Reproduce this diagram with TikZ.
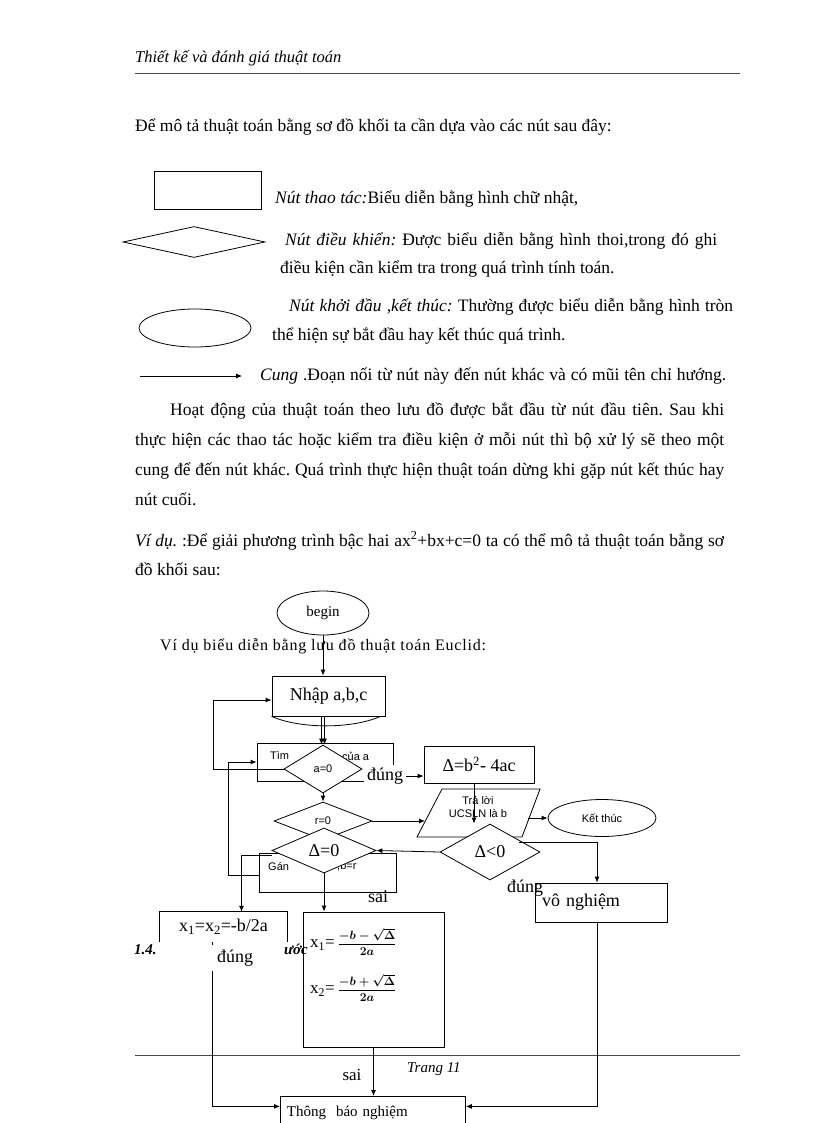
\documentclass[tikz,border=0pt]{standalone}
\usepackage{fontspec}
\setmainfont{Liberation Serif}
\setsansfont{Liberation Sans}
\usepackage{amsmath}
\usetikzlibrary{arrows.meta,shapes.geometric}
\definecolor{rulegray}{HTML}{4A4A4A}
\frenchspacing
\tikzset{
  body/.style={anchor=base west,inner sep=0pt,font=\fontsize{17.5}{20}\selectfont},
  lbl/.style={inner sep=0pt,font=\fontsize{18}{20}\selectfont},
  small/.style={inner sep=0pt,font=\sffamily\fontsize{11}{13}\selectfont},
  box/.style={draw,line width=.8pt,inner sep=0pt},
  dia/.style={diamond,draw,line width=.8pt,inner sep=0pt},
  oval/.style={ellipse,draw,line width=.8pt,inner sep=0pt},
  arr/.style={-{Latex[length=6pt,width=5pt]},line width=.8pt},
  plain/.style={line width=.8pt},
  cover/.style={fill=white,inner sep=3pt}
}
\begin{document}
\begin{tikzpicture}[x=1pt,y=-1pt]
\useasboundingbox (0,0) rectangle (816,1123);
% header
\node[body,font=\itshape\fontsize{16.5}{19}\selectfont] (head) at (135,63) {Thiết kế và đánh giá thuật toán};
\draw[rulegray,line width=.7pt] (135,73) -- (740,73);
\node[body] (intro) at (135,132) {Để mô tả thuật toán bằng sơ đồ khối ta cần dựa vào các nút sau đây:};

% legend of the node kinds
\node[box,minimum width=107,minimum height=38] (kRect) at (207.5,190) {};
\node[body] (tRect) at (275,204) {\textit{Nút thao tác:}Biểu diễn bằng hình chữ nhật,};
\node[dia,minimum width=142,minimum height=31] (kDia) at (194,242) {};
\node[body] (tDia) at (285,245) {\makebox[432pt][s]{\textit{Nút điều khiển:} Được biểu diễn bằng hình thoi,trong đó ghi}};
\node[body] (tDia2) at (280,273) {điều kiện cần kiểm tra trong quá trình tính toán.};
\node[oval,minimum width=112,minimum height=38] (kOval) at (195,328) {};
\node[body] (tOval) at (289,311) {\makebox[444pt][s]{\textit{Nút khởi đầu ,kết thúc:} Thường được biểu diễn bằng hình tròn}};
\node[body] (tOval2) at (272,340) {thể hiện sự bắt đầu hay kết thúc quá trình.};
\coordinate (kArrA) at (140,376);
\coordinate (kArrB) at (242,376);
\draw[arr] (kArrA) -- (kArrB);
\node[body] (tArr) at (260,380) {\makebox[466pt][s]{\textit{Cung} .Đoạn nối từ nút này đến nút khác và có mũi tên chỉ hướng.}};

% paragraph
\node[body] (par1) at (170,415) {\makebox[554pt][s]{Hoạt động của thuật toán theo lưu đồ được bắt đầu từ nút đầu tiên. Sau khi}};
\node[body] (par2) at (135,445) {\makebox[589pt][s]{thực hiện các thao tác hoặc kiểm tra điều kiện ở mỗi nút thì bộ xử lý sẽ theo một}};
\node[body] (par3) at (135,475) {\makebox[589pt][s]{cung để đến nút khác. Quá trình thực hiện thuật toán dừng khi gặp nút kết thúc hay}};
\node[body] (par4) at (135,505) {nút cuối.};
\node[body] (ex1) at (135,546) {\makebox[589pt][s]{\textit{Ví dụ.} :Để giải phương trình bậc hai ax\textsuperscript{2}+bx+c=0 ta có thể mô tả thuật toán bằng sơ}};
\node[body] (ex2) at (135,575) {đồ khối sau:};

% flowchart
\node[oval,minimum width=92,minimum height=44,font=\fontsize{15}{17}\selectfont] (start) at (323,613) {begin};
\node[body,font=\fontsize{16}{18}\selectfont\addfontfeature{LetterSpace=5}] (euclid) at (160,650) {Ví dụ biểu diễn bằng lưu đồ thuật toán Euclid:};
\node[box,lbl,minimum width=113,minimum height=40] (input) at (328.5,696) {Nhập a,b,c};
\draw[plain] (input.south west) .. controls (300,729) and (352,729) .. ([xshift=-5pt]input.south east);
\draw[arr] (start.south) -- (start.south |- input.north);

\node[box,minimum width=136,minimum height=38] (find) at (325,762) {};
\node[small,anchor=west] (findL) at (270,755) {Tìm};
\node[small,anchor=west] (findR) at (342,756) {của a};
\node[dia,fill=white,minimum width=78,minimum height=48,font=\sffamily\fontsize{11}{13}\selectfont] (aeq) at (323,769) {a=0};
\coordinate (dn) at (323,716);
\draw[arr] ([xshift=-1.5pt]dn) -- ([xshift=-1.5pt]aeq.north);
\draw[arr] ([xshift=1.5pt]dn) -- ([xshift=1.5pt]aeq.north);
\draw[arr] (aeq.west) -- ++(-70,0) |- ([yshift=-4pt]input.west);

\node[lbl,cover] (yes1) at (385,776) {đúng};
\node[box,lbl,minimum width=110,minimum height=37] (disc) at (479,764.5) {Δ=b\textsuperscript{2}- 4ac};
\draw[arr] (yes1.east) -- (yes1.east -| disc.west);

\node[dia,minimum width=98,minimum height=38,font=\sffamily\fontsize{11}{13}\selectfont] (req) at (323,821) {r=0};
\draw[arr] (aeq.south) -- (req.north);

\coordinate (pTL) at (442,789);
\coordinate (pTR) at (540,789);
\coordinate (pBR) at (522,837);
\coordinate (pBL) at (417,837);
\draw[plain] (pTL) -- (pTR) -- (pBR) -- (pBL) -- cycle;
\node[small,align=center] (ans) at (478,807) {Trả lời\\UCSLN là b};
\coordinate (ansL) at (425,821);
\coordinate (ansR) at (528,818);
\draw[arr] (req.east) -- (ansL);
\node[oval,minimum width=108,minimum height=37,font=\sffamily\fontsize{11}{13}\selectfont] (stop) at (602,818) {Kết thúc};
\draw[arr] (ansR) -- (stop.west);

\node[dia,fill=white,minimum width=100,minimum height=56,font=\fontsize{18}{20}\selectfont] (lt) at (490,852) {Δ<0};
\draw[arr] ([xshift=-5pt]disc.south) -- ([xshift=-5pt]disc.south |- lt.north);

\node[box,lbl,minimum width=132,minimum height=39,text width=118,align=left] (none) at (601,902.5) {vô nghiệm};
\draw[arr] ([shift={(4pt,-5pt)}]lt.north east) -| ([xshift=-4pt]none.north);
\node[lbl] (yes2) at (525,888) {đúng};

\node[box,minimum width=137,minimum height=39] (assign) at (328,872.5) {};
\node[small,anchor=west] (asgL) at (268,866) {Gán};
\node[small,anchor=west] (asgR) at (337,866) {,b=r};
\draw[arr] ([yshift=-3pt]assign.west) -- ++(-31,0) |- (find.west);
\node[dia,fill=white,minimum width=104,minimum height=45,font=\fontsize{18}{20}\selectfont] (zero) at (324,850.5) {Δ=0};
\draw[arr] (lt.west) -- (zero.east);

\node[lbl,minimum width=127,minimum height=30] (dbl) at (223.5,927) {x\textsubscript{1}=x\textsubscript{2}=-b/2a};
\draw[plain] (dbl.south west) -- (dbl.north west) -- (dbl.north east) -- (dbl.south east);
\draw[arr] ([yshift=-5pt]zero.west) -| ([xshift=18pt]dbl.north);
\node[body,font=\bfseries\itshape\fontsize{15}{18}\selectfont] (sec) at (134,954) {1.4.};
\node[body,font=\bfseries\itshape\fontsize{15}{18}\selectfont] (secR) at (284,954) {ước};

\node[box,minimum width=141,minimum height=135] (quad) at (373.5,979.5) {};
\draw[arr] (zero.south) -- (zero.south |- quad.north);
\node[lbl] (no1) at (378,897) {sai};
\node[anchor=west,inner sep=0pt,font=\fontsize{17}{19}\selectfont] (root1) at (310,942) {x\textsubscript{1}=\,{\fontsize{13}{15}\selectfont$\dfrac{\boldsymbol{-b-\sqrt{\Delta}}}{\boldsymbol{2a}}$}};
\node[anchor=west,inner sep=0pt,font=\fontsize{17}{19}\selectfont] (root2) at (310,988) {x\textsubscript{2}=\,{\fontsize{13}{15}\selectfont$\dfrac{\boldsymbol{-b+\sqrt{\Delta}}}{\boldsymbol{2a}}$}};

% footer
\draw[rulegray,line width=.7pt] (135,1055) -- (740,1055);
\node[body,font=\itshape\fontsize{15}{18}\selectfont] (page) at (407,1072) {Trang 11};

\node[box,anchor=north west,minimum width=185,minimum height=32,font=\fontsize{15}{17}\selectfont,text width=172,align=left] (report) at (280,1096) {Thông\ \ báo nghiệm};
\draw[arr] (quad.south) -- (quad.south |- report.north);
\node[lbl,font=\fontsize{17}{19}\selectfont] (no2) at (352,1075) {sai};
\draw[arr] ([xshift=-11.5pt]dbl.south) |- ([yshift=6pt]report.west);
\draw[arr] ([xshift=-4pt]none.south) |- ([yshift=6pt]report.east);
\node[lbl,cover,inner sep=5pt] (yes3) at (235,958) {đúng};
\end{tikzpicture}
\end{document}
